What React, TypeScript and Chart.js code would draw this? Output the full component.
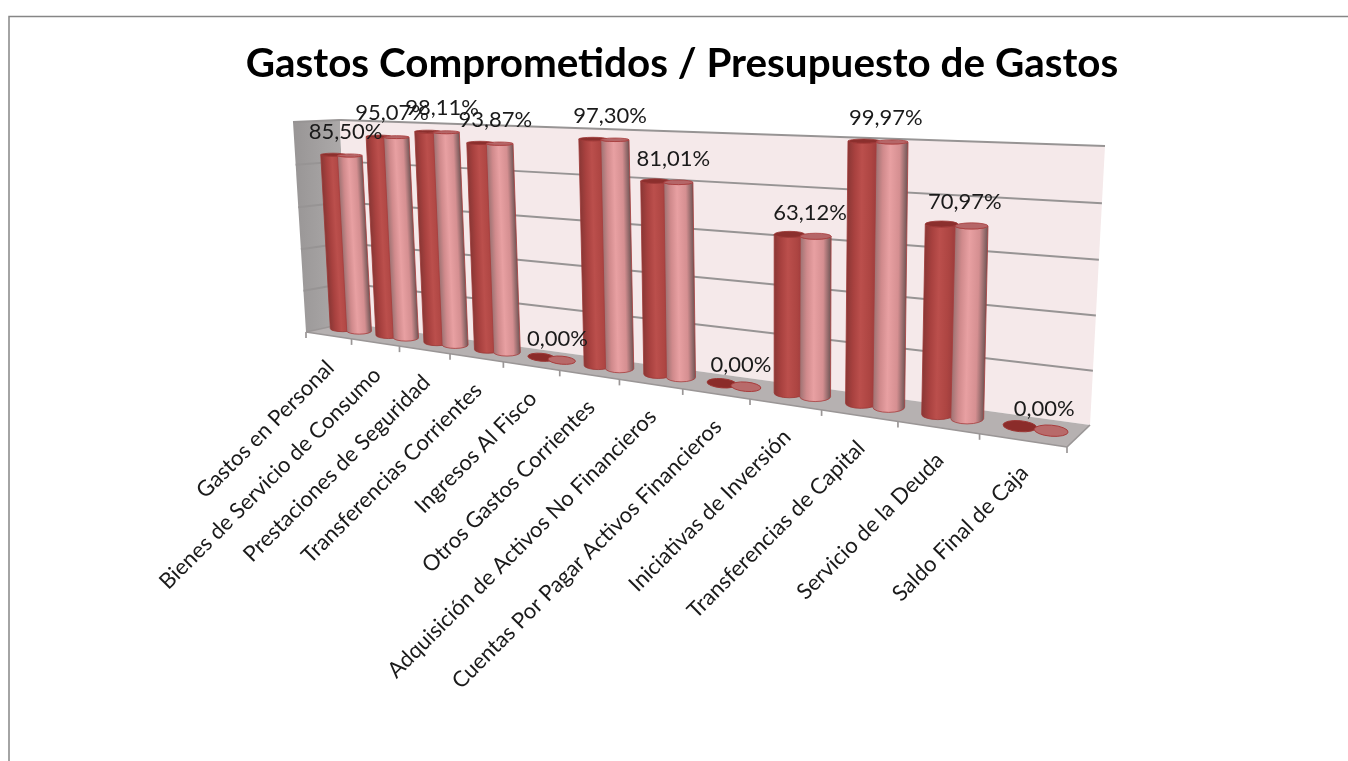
import React, { useEffect, useRef } from "react";
import { Chart, registerables } from "chart.js";

Chart.register(...registerables);

const categories = [
  "Gastos en Personal",
  "Bienes de Servicio de Consumo",
  "Prestaciones de Seguridad",
  "Transferencias Corrientes",
  "Ingresos Al Fisco",
  "Otros Gastos Corrientes",
  "Adquisición de Activos No Financieros",
  "Cuentas Por Pagar Activos Financieros",
  "Iniciativas de Inversión",
  "Transferencias de Capital",
  "Servicio de la Deuda",
  "Saldo Final de Caja",
];
const comprometidos = [85.5, 95.07, 98.11, 93.87, 0, 97.3, 81.01, 0, 63.12, 99.97, 70.97, 0];
const presupuesto = [85.5, 95.07, 98.11, 93.87, 0, 97.3, 81.01, 0, 63.12, 99.97, 70.97, 0];
const valueTicks = [0, 20, 40, 60, 80, 100];
const chartTitle = "Gastos Comprometidos / Presupuesto de Gastos";

type Pt = [number, number];
type Projector = (u: number, v: number) => Pt;

// Builds the projective map from the unit square (u along the categories, v up the value axis)
// onto a quad given as bottom-left, bottom-right, top-right, top-left.
function planeProjector(q: [Pt, Pt, Pt, Pt]): Projector {
  const [[x0, y0], [x1, y1], [x2, y2], [x3, y3]] = q;
  const dx1 = x1 - x2, dx2 = x3 - x2, sx = x0 - x1 + x2 - x3;
  const dy1 = y1 - y2, dy2 = y3 - y2, sy = y0 - y1 + y2 - y3;
  const den = dx1 * dy2 - dx2 * dy1;
  const g = (sx * dy2 - dx2 * sy) / den;
  const h = (dx1 * sy - sx * dy1) / den;
  const a = x1 - x0 + g * x1, b = x3 - x0 + h * x3;
  const d = y1 - y0 + g * y1, e = y3 - y0 + h * y3;
  return (u, v) => {
    const w = g * u + h * v + 1;
    return [(a * u + b * v + x0) / w, (d * u + e * v + y0) / w];
  };
}

// Three depth slices of the 3D box: the front edge, the plane of the cylinders and the rear wall.
const frontPlane = planeProjector([[306, 332], [1067, 447], [1074, 148], [293, 122]]);
const barPlane = planeProjector([[328.5, 326.6], [1079, 434.7], [1089.5, 148], [317, 124]]);
const backPlane = planeProjector([[347, 323], [1090, 425], [1105, 146], [340, 120]]);

const poly = (ctx: CanvasRenderingContext2D, pts: Pt[]) => {
  ctx.beginPath();
  pts.forEach((p, i) => (i ? ctx.lineTo(p[0], p[1]) : ctx.moveTo(p[0], p[1])));
  ctx.closePath();
};

const segment = (ctx: CanvasRenderingContext2D, a: Pt, b: Pt) => {
  ctx.beginPath();
  ctx.moveTo(a[0], a[1]);
  ctx.lineTo(b[0], b[1]);
  ctx.stroke();
};

const DARK = { stops: ["#8a3735", "#a8413f", "#bb4f4c", "#ad4542", "#97393a"], cap: "#8b2f2d", line: "#9c3634" };
const PINK = { stops: ["#9c7272", "#d08a8c", "#e8a0a2", "#d58f91", "#6f5656"], cap: "#b56668", line: "#a83c3c" };

function drawCylinder(
  ctx: CanvasRenderingContext2D,
  u: number,
  v: number,
  look: typeof DARK,
) {
  const base = barPlane(u, 0);
  const top = barPlane(u, v);
  const fullHeight = base[1] - barPlane(u, 1)[1];
  const rx = fullHeight * 0.06;
  const slope = 0.6 * Math.atan2(barPlane(u + 0.01, 0)[1] - base[1], barPlane(u + 0.01, 0)[0] - base[0]);
  const baseRy = 3 + 2.6 * u;
  const topRy = baseRy * (1 - 0.6 * v);

  if (v < 0.002) {
    ctx.beginPath();
    ctx.ellipse(base[0], base[1], rx, baseRy, slope, 0, Math.PI * 2);
    ctx.fillStyle = look === DARK ? "#8b2c2a" : "#b86a6a";
    ctx.fill();
    ctx.strokeStyle = look.line;
    ctx.lineWidth = 1;
    ctx.stroke();
    return;
  }

  ctx.save();
  // Shear so the shading follows the slight lean of the vertical axis.
  const lean = (top[0] - base[0]) / (top[1] - base[1]);
  ctx.transform(1, 0, lean, 1, base[0] - lean * base[1], 0);
  const h = base[1] - top[1];
  const grad = ctx.createLinearGradient(-rx, 0, rx, 0);
  [0, 0.22, 0.45, 0.75, 1].forEach((s, i) => grad.addColorStop(s, look.stops[i]));

  ctx.beginPath();
  ctx.ellipse(0, base[1], rx, baseRy, 0, Math.PI, 0, true);
  ctx.lineTo(rx, base[1] - h);
  ctx.ellipse(0, base[1] - h, rx, topRy, 0, 0, Math.PI, false);
  ctx.closePath();
  ctx.fillStyle = grad;
  ctx.fill();
  ctx.strokeStyle = look.line;
  ctx.lineWidth = 0.8;
  ctx.stroke();

  ctx.beginPath();
  ctx.ellipse(0, base[1] - h, rx, topRy, 0, 0, Math.PI * 2);
  ctx.fillStyle = look.cap;
  ctx.fill();
  ctx.stroke();
  ctx.restore();
}

const box3d = {
  id: "box3d",
  beforeDraw(chart: any) {
    const ctx: CanvasRenderingContext2D = chart.ctx;
    ctx.save();
    ctx.fillStyle = "#ffffff";
    ctx.fillRect(0, 0, chart.width, chart.height);
    ctx.strokeStyle = "#868686";
    ctx.lineWidth = 1.5;
    ctx.strokeRect(9, 16.5, chart.width + 40, chart.height + 40);
    ctx.restore();
  },
  beforeDatasetsDraw(chart: any) {
    const ctx: CanvasRenderingContext2D = chart.ctx;
    const { x: xs, y: ys } = chart.scales;
    const toV = (py: number) => (ys.bottom - py) / (ys.bottom - ys.top);
    const toU = (px: number) => (px - xs.left) / (xs.right - xs.left);
    ctx.save();

    // Side wall
    const sideGrad = ctx.createLinearGradient(293, 0, 345, 0);
    sideGrad.addColorStop(0, "#989595");
    sideGrad.addColorStop(1, "#aeabab");
    poly(ctx, [frontPlane(0, 0), backPlane(0, 0), backPlane(0, 1), frontPlane(0, 1)]);
    ctx.fillStyle = sideGrad;
    ctx.fill();

    // Rear wall
    poly(ctx, [backPlane(0, 0), backPlane(1, 0), backPlane(1, 1), backPlane(0, 1)]);
    ctx.fillStyle = "#f5e9ea";
    ctx.fill();

    // Floor
    poly(ctx, [frontPlane(0, 0), frontPlane(1, 0), backPlane(1, 0), backPlane(0, 0)]);
    ctx.fillStyle = "#b6b1b1";
    ctx.fill();

    // Value gridlines across both walls
    ctx.strokeStyle = "#979494";
    ctx.lineWidth = 2;
    valueTicks.forEach((t) => {
      if (t === 0) return;
      const v = toV(ys.getPixelForValue(t));
      segment(ctx, frontPlane(0, v), backPlane(0, v));
      segment(ctx, backPlane(0, v), backPlane(1, v));
    });

    // Front edge of the floor with its category ticks
    ctx.strokeStyle = "#9a9696";
    ctx.lineWidth = 1.7;
    segment(ctx, frontPlane(0, 0), frontPlane(1, 0));
    segment(ctx, frontPlane(1, 0), backPlane(1, 0));
    segment(ctx, frontPlane(0, 0), backPlane(0, 0));
    categories.concat("").forEach((_, i) => {
      const p = frontPlane(i / categories.length, 0);
      segment(ctx, p, [p[0], p[1] + 6]);
    });

    // Cylinders, left to right, each light one in front of its dark partner
    const dark = chart.getDatasetMeta(0).data;
    const light = chart.getDatasetMeta(1).data;
    categories.forEach((_, i) => {
      drawCylinder(ctx, toU(dark[i].x), toV(dark[i].y), DARK);
      drawCylinder(ctx, toU(light[i].x), toV(light[i].y), PINK);
    });

    // Value labels above each pair
    ctx.fillStyle = "#1a1a1a";
    ctx.font = "22px Lato";
    ctx.textAlign = "center";
    ctx.textBaseline = "middle";
    categories.forEach((_, i) => {
      const u = toU((dark[i].x + light[i].x) / 2);
      const v = toV(light[i].y);
      const p = barPlane(u, v);
      const text = presupuesto[i].toFixed(2).replace(".", ",") + "%";
      ctx.fillText(text, p[0] + 4 + 5 * u, p[1] - 24 + 4 * (1 - v));
    });

    // Category labels, slanted up to the front edge
    ctx.font = "22px Lato";
    ctx.textAlign = "right";
    categories.forEach((_, i) => {
      const u = (i + 0.5) / categories.length;
      const p = frontPlane(u, 0);
      ctx.save();
      ctx.translate(p[0] + 2, p[1] + 29);
      ctx.rotate(-Math.PI / 4);
      ctx.fillText(xs.getLabelForValue(i), 0, 0);
      ctx.restore();
    });

    ctx.restore();
    return false;
  },
};

export default function App() {
  const ref = useRef<HTMLCanvasElement>(null);
  useEffect(() => {
    const chart = new Chart(ref.current!, {
      type: "bar",
      data: {
        labels: categories,
        datasets: [
          { label: "Comprometidos", data: comprometidos, backgroundColor: "#b84c4a" },
          { label: "Presupuesto", data: presupuesto, backgroundColor: "#e59c9e" },
        ],
      },
      options: {
        responsive: false,
        animation: false,
        devicePixelRatio: 1,
        layout: { padding: { left: 16 } },
        categoryPercentage: 0.73,
        barPercentage: 1,
        scales: {
          x: { display: false },
          y: { display: false, min: 0, max: 100, ticks: { stepSize: 20 } },
        },
        plugins: {
          legend: { display: false },
          tooltip: { enabled: false },
          title: {
            display: true,
            text: chartTitle,
            color: "#000000",
            font: { family: "Lato", size: 40.4, weight: "bold", lineHeight: 1.2 },
            padding: { top: 40, bottom: 0 },
          },
        },
      },
      plugins: [box3d],
    } as any);
    return () => chart.destroy();
  }, []);
  return (
    <div style={{ position: "absolute", left: 0, top: 0, width: 1348, height: 761 }}>
      <canvas ref={ref} width={1348} height={761} style={{ display: "block" }} />
    </div>
  );
}
